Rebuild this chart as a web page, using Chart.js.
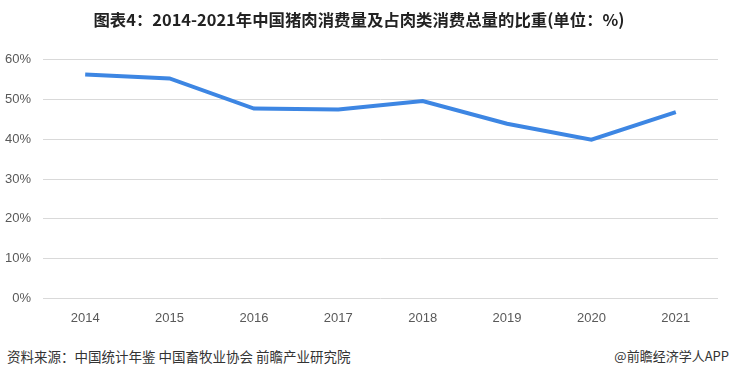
<!DOCTYPE html>
<html>
<head>
<meta charset="utf-8">
<script src="https://cdn.jsdelivr.net/npm/chart.js@4/dist/chart.umd.min.js"></script>
<style>
  html, body { margin: 0; padding: 0; background: #fff; }
  #wrap { position: relative; width: 731px; height: 377px; overflow: hidden; }
  #chartBox { position: absolute; left: 0; top: 0; width: 731px; height: 330px; }
  .foot { position: absolute; top: 346px; font-family: "Noto Sans CJK SC", "Noto Sans", sans-serif; font-size: 13.5px; color: #333; white-space: nowrap; }
  #src { left: 7px; }
  #brand { right: 2px; font-size: 13px; }
</style>
</head>
<body>
<div id="wrap">
  <div id="chartBox"><canvas id="c"></canvas></div>
  <div class="foot" id="src">资料来源：中国统计年鉴 中国畜牧业协会 前瞻产业研究院</div>
  <div class="foot" id="brand">@前瞻经济学人APP</div>
</div>
<script>
(function () {
  'use strict';

  const years = ['2014', '2015', '2016', '2017', '2018', '2019', '2020', '2021'];
  const porkShare = [56.3, 55.3, 47.7, 47.5, 49.6, 43.9, 39.9, 46.8];
  const titleText = '图表4：2014-2021年中国猪肉消费量及占肉类消费总量的比重(单位：%)';

  const ctx = document.getElementById('c').getContext('2d');
  new Chart(ctx, {
    type: 'line',
    data: {
      labels: years,
      datasets: [
        {
          label: '猪肉占比',
          data: porkShare,
          borderColor: '#3d86e3',
          borderWidth: 4,
          pointRadius: 0,
          tension: 0,
          fill: false,
        },
      ],
    },
    options: {
      responsive: true,
      maintainAspectRatio: false,
      animation: false,
      layout: { padding: { left: 0, right: 13, top: 8, bottom: 0 } },
      plugins: {
        legend: { display: false },
        tooltip: { enabled: false },
        title: {
          display: true,
          text: titleText,
          color: '#222',
          font: { family: '"Noto Sans CJK SC", sans-serif', size: 16.4, weight: 'bold' },
          padding: { top: 2, bottom: 30 },
        },
      },
      scales: {
        x: {
          offset: true,
          grid: { display: false },
          border: { display: false },
          ticks: { color: '#595959', font: { family: '"Liberation Sans", sans-serif', size: 13 }, padding: 4 },
        },
        y: {
          min: 0,
          max: 60,
          afterFit: (scale) => { scale.width = 43; },
          ticks: {
            stepSize: 10,
            color: '#595959',
            padding: 12,
            font: { family: '"Liberation Sans", sans-serif', size: 13 },
            callback: (v) => v + '%',
          },
          grid: { color: '#d9d9d9', drawTicks: false },
          border: { display: false },
        },
      },
    },
  });
})();
</script>
</body>
</html>
